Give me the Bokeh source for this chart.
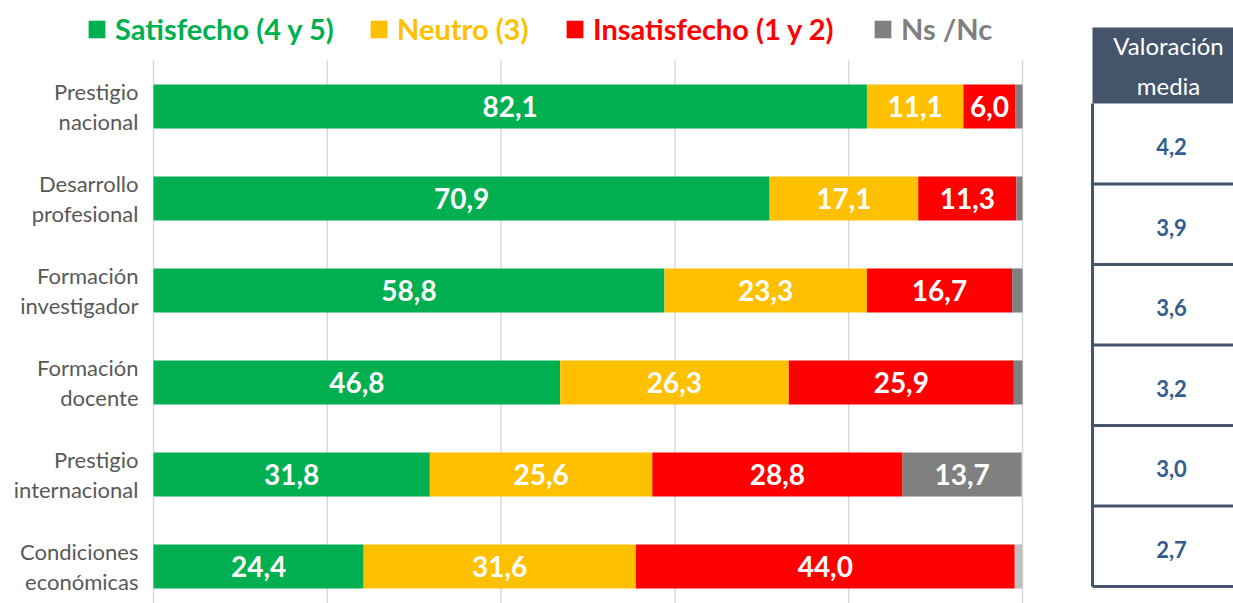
import numpy as np
from bokeh.plotting import figure
from bokeh.models import ColumnDataSource, Range1d, Legend, LegendItem
from bokeh.core.properties import value
from bokeh.embed import file_html
from bokeh.resources import INLINE

# ---------------- data ----------------
categories = ["Prestigio\nnacional", "Desarrollo\nprofesional", "Formación\ninvestigador",
              "Formación\ndocente", "Prestigio\ninternacional", "Condiciones\neconómicas"]
satisfecho = [82.1, 70.9, 58.8, 46.8, 31.8, 24.4]
neutro = [11.1, 17.1, 23.3, 26.3, 25.6, 31.6]
insatisfecho = [6.0, 11.3, 16.7, 25.9, 28.8, 44.0]
ns_nc = [0.8, 0.7, 1.2, 1.0, 13.7, 0.9]
valoracion_media = [4.2, 3.9, 3.6, 3.2, 3.0, 2.7]
series_names = ["Satisfecho (4 y 5)", "Neutro (3)", "Insatisfecho (1 y 2)", "Ns /Nc"]
table_header = "Valoración\nmedia"
x_ticks = [0, 20, 40, 60, 80, 100]

# ---------------- styles ----------------
series_colors = ["#00B050", "#FFC000", "#FF0000", "#808080"]
ns_row_colors = ["#808080", "#808080", "#808080", "#808080", "#808080", "#BFBFBF"]
legend_text_colors = ["#00B050", "#FFC000", "#FF0000", "#7F7F7F"]
FONT = "Lato"

W, H = 1233, 603
X0_PX, X_SCALE = 153, 8.69   # px of value 0, px per unit
Y0_PX, Y_SCALE = 106, 92     # px of first row centre, px per row


def fx(px):
    return (px - X0_PX) / X_SCALE


def fy(py):
    return (py - Y0_PX) / Y_SCALE


p = figure(width=W, height=H, output_backend="svg", toolbar_location=None,
           x_range=Range1d(fx(0), fx(W)), y_range=Range1d(fy(H), fy(0)),
           x_axis_location=None, y_axis_location=None, min_border=0)
p.outline_line_color = None
p.grid.visible = False
p.background_fill_color = "white"

n = len(categories)
rows = np.arange(n)

# gridlines
p.segment(x0=x_ticks, x1=x_ticks, y0=[fy(60)] * len(x_ticks), y1=[fy(H)] * len(x_ticks),
          line_color="#D9D9D9", line_width=1.5)

# stacked bars
vals = np.array([satisfecho, neutro, insatisfecho, ns_nc], dtype=float)
totals = vals.sum(axis=0)
norm = vals / np.maximum(totals, 100.0) * 100.0
rights = np.cumsum(norm, axis=0)
lefts = rights - norm

renderers = []
for k, name in enumerate(series_names):
    colors = ns_row_colors if k == 3 else [series_colors[k]] * n
    src = ColumnDataSource(dict(
        y=rows, left=lefts[k], right=rights[k], color=colors,
        cx=(lefts[k] + rights[k]) / 2,
        label=[f"{v:.1f}".replace(".", ",") if v >= 3 else "" for v in vals[k]],
    ))
    r = p.hbar(y="y", left="left", right="right", height=0.48, fill_color="color",
               line_color=None, source=src)
    renderers.append(r)
    p.text(x="cx", y="y", text="label", source=src, text_align="center",
           text_baseline="middle", text_color="white", text_font=value(FONT),
           text_font_style="bold", text_font_size="28px")

# category labels
p.text(x=[fx(138)] * n, y=rows, text=categories, text_align="right",
       text_baseline="middle", text_color="#595959", text_font=value(FONT),
       text_font_size="22px", text_line_height=1.1)

# legends (one per series so each label gets its own colour)
legend_px = [86, 368, 564, 872]
LEG_H = 34
for r, name, c, lx in zip(renderers, series_names, legend_text_colors, legend_px):
    lg = Legend(items=[LegendItem(label=name, renderers=[r])],
                location=(lx, H - 29 - LEG_H // 2), orientation="horizontal",
                padding=0, margin=0, spacing=0, glyph_width=21, glyph_height=22,
                label_standoff=8, label_height=LEG_H,
                label_text_font=FONT, label_text_font_style="bold",
                label_text_font_size="29px", label_text_color=c,
                border_line_color=None, background_fill_alpha=0)
    p.add_layout(lg, "center")

# table of mean ratings
t_left, t_right = fx(1092), fx(1250)
h_top, h_bot = fy(27), fy(103)
row_h = 80.5 / Y_SCALE
cell_tops = h_bot + np.arange(n) * row_h
cell_bots = cell_tops + row_h
p.quad(left=[t_left], right=[t_right], top=[h_top], bottom=[h_bot],
       fill_color="#44546A", line_color=None)
p.text(x=[fx(1168)], y=[(h_top + h_bot) / 2], text=[table_header], text_align="center",
       text_baseline="middle", text_color="white", text_font=value(FONT),
       text_font_size="24px", text_line_height=1.4)
p.segment(x0=[t_left] * n, x1=[t_right] * n, y0=cell_bots, y1=cell_bots,
          line_color="#44546A", line_width=3)
p.segment(x0=[t_left], x1=[t_left], y0=[h_bot], y1=[cell_bots[-1]],
          line_color="#44546A", line_width=3)
p.text(x=[fx(1171)] * n, y=(cell_tops + cell_bots) / 2 + 3 / Y_SCALE,
       text=[f"{v:.1f}".replace(".", ",") for v in valoracion_media],
       text_align="center", text_baseline="middle", text_color="#335C8E",
       text_font=value(FONT), text_font_style="bold", text_font_size="22px")

open("out.html", "w").write(file_html(p, INLINE))
